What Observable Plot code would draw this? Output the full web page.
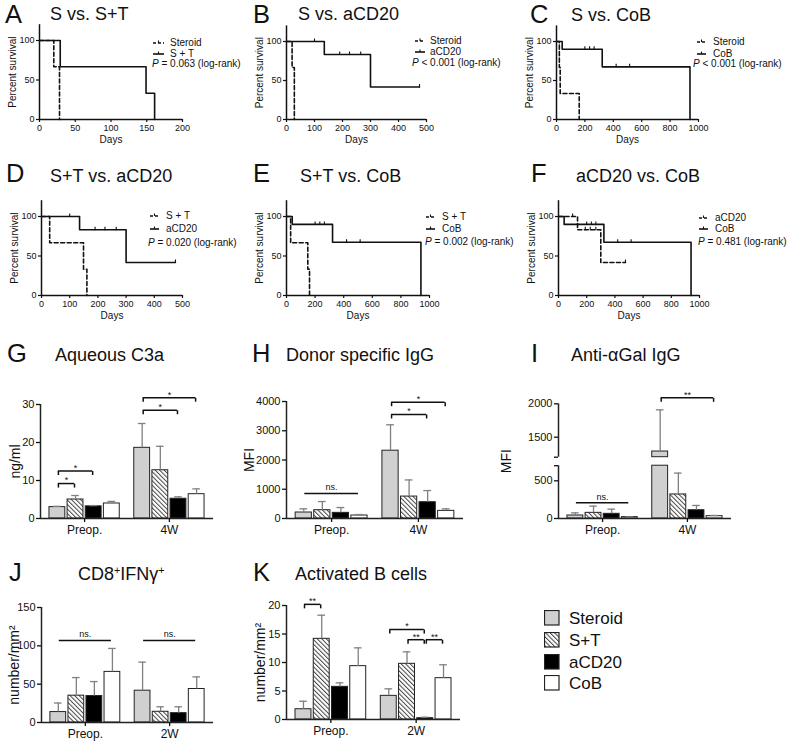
<!DOCTYPE html>
<html><head><meta charset="utf-8">
<script src="https://cdn.jsdelivr.net/npm/d3@7"></script>
<script src="https://cdn.jsdelivr.net/npm/@observablehq/plot@0.6"></script>
<style>
body{margin:0;background:#fff;}
#root{position:relative;width:789px;height:741px;overflow:hidden;font-family:Arial,"Liberation Sans",sans-serif;color:#111;background:#fff;}
.abs{position:absolute;white-space:nowrap;line-height:1;}
sup{font-size:0.6em;vertical-align:0.55em;line-height:0;}
</style></head><body>
<svg width="0" height="0" style="position:absolute"><defs>
<pattern id="hatch" patternUnits="userSpaceOnUse" width="3.2" height="3.2" patternTransform="rotate(-45)">
<rect width="3.2" height="3.2" fill="#fff"/><line x1="0.5" y1="0" x2="0.5" y2="3.2" stroke="#444" stroke-width="1"/></pattern>
</defs></svg>
<div id="root"></div>
<script>
// ---------- DATA ----------
const treatments = ["Steroid", "S+T", "aCD20", "CoB"];
const barFills = ["#d0d0d0", "url(#hatch)", "#000000", "#ffffff"];

// Kaplan-Meier steps: [day, percent survival]
const steroidKM = [[0,100],[20,66.7],[28,0]];
const steroidKM_C = [[0,100],[20,66.7],[26,33.3],[160,0]];
const stKM = [[0,100],[29,66.7],[149,33.3],[161,0]];
const acd20KM = [[0,100],[135,83.3],[300,41.7],[475,41.7]];
const acd20Censor = [[100,100],[190,83.3],[225,83.3],[265,83.3],[475,41.7]];
const cobKM = [[0,100],[40,90],[322,67.5],[940,0]];
const cobCensor = [[200,90],[233,90],[265,90],[420,67.5],[515,67.5]];

const ticks200 = [0,50,100,150,200];
const ticks500 = [0,100,200,300,400,500];
const ticks1000 = [0,200,400,600,800,1000];
const pValues = ["= 0.063","< 0.001","< 0.001","= 0.020","= 0.002","= 0.481"];

const panelLetters = ["A","B","C","D","E","F","G","H","I","J","K"];
const panelTitles = ["S vs. S+T","S vs. aCD20","S vs. CoB","S+T vs. aCD20","S+T vs. CoB","aCD20 vs. CoB",
  "Aqueous C3a","Donor specific IgG","Anti-αGal IgG","CD8<sup>+</sup>IFNγ<sup>+</sup>","Activated B cells"];

const groups4W = ["Preop.","4W"];
const groups2W = ["Preop.","2W"];
// rows: [Preop., later]; columns: Steroid, S+T, aCD20, CoB
const c3aMean = [[3.0,5.0,3.2,3.95],[18.6,12.7,5.2,6.4]];
const c3aSD   = [[0.2,1.05,0.2,0.55],[6.4,6.3,0.5,1.4]];
const dsaMean = [[205,284,193,102],[2318,750,557,261]];
const dsaSD   = [[125,296,182,34],[886,568,398,69]];
const galMean = [[40,75,62,18],[1285,319,110,31]];
const galSD   = [[35,89,62,3],[625,283,63,9]];
const cd8Mean = [[13.6,35,34.5,66],[41.5,14,12.2,43.7]];
const cd8SD   = [[11.8,23.6,18.9,30.6],[37.2,6.5,8.3,15.8]];
const bMean   = [[1.8,14.15,5.73,9.36],[4.15,9.77,0.23,7.25]];
const bSD     = [[1.4,4.15,0.7,3.21],[1.23,2.1,0.17,2.35]];

// significance: [group, barA, barB, level, label]
const c3aSig = [[0,0,1,9.2,"*"],[0,0,2,12.5,"*"],[1,0,2,28.5,"*"],[1,0,3,31.8,"*"]];
const dsaSig = [[0,0,3,852,"ns."],[1,0,2,3557,"*"],[1,0,3,3977,"*"]];
const galSig = [[0,0,3,208,"ns."],[1,0,3,2090,"**"]];
const cd8Sig = [[0,0,3,107,"ns."],[1,0,3,107,"ns."]];
const bSig   = [[0,0,1,20.2,"**"],[1,0,2,15.8,"*"],[1,1,2,14.0,"**"],[1,2,3,14.0,"**"]];

const c3aTicks = [0,10,20,30];
const dsaTicks = [0,1000,2000,3000,4000];
const galTicks = [0,500,1500,2000];
const galBreak = [700,1200];
const cd8Ticks = [0,50,100,150];
const bTicks = [0,5,10,15,20];

// ---------- RENDER ----------
const root = document.getElementById("root");
const STYLE = "background:transparent;overflow:visible;font-family:Arial,'Liberation Sans',sans-serif;font-size:9px;color:#111;";

function place(el, sx, sy, sw) {
  const d = document.createElement("div");
  d.style.cssText = `position:absolute;left:${sx}px;top:${sy}px;width:${sw}px;`;
  d.appendChild(el); root.appendChild(d);
}
function addText(html, left, baseline, fs, extra) {
  const d = document.createElement("div");
  d.className = "abs";
  d.style.left = left + "px";
  d.style.top = (baseline - 0.8465 * fs) + "px";
  d.style.fontSize = fs + "px";
  if (extra) d.style.cssText += extra;
  d.innerHTML = html;
  root.appendChild(d);
}
const censorTick = {draw(ctx, size) { const r = Math.sqrt(size / Math.PI); ctx.moveTo(0, -r); ctx.lineTo(0, 0.5); }};
const downTick = {draw(ctx, size) { const r = Math.sqrt(size / Math.PI); ctx.moveTo(0, 0); ctx.lineTo(0, r); }};
const intFmt = d3.format("d");

function survPanel(o) {
  const H = o.y0 - o.y100;
  const yTop = o.y0 - 1.2 * H;
  const marks = [
    Plot.axisX({ticks: o.xticks, tickFormat: intFmt, tickSize: 3, tickPadding: 2, fontSize: 9, strokeWidth: 1.2, label: null}),
    Plot.axisY({ticks: [0,50,100], tickFormat: intFmt, tickSize: 3, tickPadding: 2, fontSize: 9, strokeWidth: 1.2, label: null}),
    Plot.ruleY([0], {stroke: "#111", strokeWidth: 1.5}),
    Plot.ruleX([0], {stroke: "#111", strokeWidth: 1.5}),
    Plot.text(["Percent survival"], {text: d => d, frameAnchor: "left", textAnchor: "middle", dx: -27, rotate: -90, fontSize: 10}),
    Plot.text(["Days"], {text: d => d, frameAnchor: "bottom", textAnchor: "middle", dy: 23, fontSize: 10})
  ];
  o.curves.forEach(c => {
    marks.push(Plot.line(c.km, {x: d => d[0], y: d => d[1], curve: "step-after", stroke: "#111",
      strokeWidth: 1.6, strokeDasharray: c.dashed ? "4,2.5" : null}));
    if (c.censor) marks.push(Plot.dot(c.censor, {x: d => d[0], y: d => d[1], symbol: censorTick, r: 3,
      fill: "none", stroke: "#111", strokeWidth: 1.1}));
  });
  const svg = Plot.plot({
    width: o.sw, height: o.sh,
    marginLeft: o.x0 - o.sx, marginRight: o.sx + o.sw - o.x1,
    marginTop: yTop - o.sy, marginBottom: o.sy + o.sh - o.y0,
    x: {domain: [0, o.xticks[o.xticks.length - 1]]},
    y: {domain: [0, 120]},
    style: STYLE, marks
  });
  place(svg, o.sx, o.sy, o.sw);
  // legend
  const lg = o.legend;
  const names = o.curves.map(c => c.name);
  [0, 1].forEach(i => {
    const yc = lg.ys[i];
    const s = document.createElementNS("http://www.w3.org/2000/svg", "svg");
    const w = lg.s1 - lg.s0;
    s.setAttribute("width", w); s.setAttribute("height", 8);
    s.style.cssText = `position:absolute;left:${lg.s0}px;top:${yc - 4}px;overflow:visible`;
    s.innerHTML = `<line x1="0" y1="4" x2="${w}" y2="4" stroke="#111" stroke-width="1.6" ${i === 0 ? 'stroke-dasharray="3,2"' : ''}/>` +
      `<line x1="${w/2}" y1="1.5" x2="${w/2}" y2="4" stroke="#111" stroke-width="1.1"/>`;
    root.appendChild(s);
    addText(names[i], lg.tx, yc + 3.6, 10);
  });
  addText(`<i>P</i> ${o.p} (log-rank)`, lg.px, lg.ys[2] + 3.6, 10);
}

function barPanel(o) {
  const f = o.f || (v => v);
  const xd = [-0.52, 1.52];
  const STEP = 0.214, BW = 0.187, CAP = 0.045;
  const pos = (gi, ti) => gi + (ti - 1.5) * STEP;
  const rows = [];
  o.mean.forEach((row, gi) => row.forEach((v, ti) => rows.push({gi, ti, v, e: o.sd[gi][ti]})));
  const pieces = [];
  rows.forEach(d => {
    if (o.brk && d.v > o.brk[1]) { pieces.push({...d, lo: 0, hi: o.brk[0]}); pieces.push({...d, lo: o.brk[1], hi: d.v}); }
    else pieces.push({...d, lo: 0, hi: d.v});
  });
  const top = o.yTicks[o.yTicks.length - 1];
  const axisSegs = o.brk ? [[0, o.brk[0]], [o.brk[1], top]] : [[0, top]];
  const tickVals = o.brk ? [...o.yTicks, ...o.brk] : o.yTicks;
  const labelOf = new Map(tickVals.map(v => [f(v), o.yTicks.includes(v) ? String(v) : ""]));
  const sig = o.sig.map(([g, a, b, y, label]) => ({x1: pos(g, a) + 0.012, x2: pos(g, b) - 0.012, y, label}));
  const ends = sig.filter(s => s.label !== "ns.").flatMap(s => [{x: s.x1, y: s.y}, {x: s.x2, y: s.y}]);
  const marks = [];
  treatments.forEach((t, ti) => {
    marks.push(Plot.rect(pieces.filter(d => d.ti === ti), {
      x1: d => pos(d.gi, d.ti) - BW / 2, x2: d => pos(d.gi, d.ti) + BW / 2,
      y1: d => f(d.lo), y2: d => f(d.hi), fill: barFills[ti], stroke: "#222", strokeWidth: 1}));
  });
  marks.push(
    Plot.ruleX(rows, {x: d => pos(d.gi, d.ti), y1: d => f(d.v), y2: d => f(d.v + d.e), stroke: "#808080", strokeWidth: 1.3}),
    Plot.ruleY(rows, {y: d => f(d.v + d.e), x1: d => pos(d.gi, d.ti) - CAP, x2: d => pos(d.gi, d.ti) + CAP, stroke: "#808080", strokeWidth: 1.3}),
    Plot.ruleY([0], {stroke: "#222", strokeWidth: 1.5}),
    Plot.ruleX(axisSegs, {x: xd[0], y1: d => f(d[0]), y2: d => f(d[1]), stroke: "#222", strokeWidth: 1.5}),
    Plot.axisY({ticks: tickVals.map(f), tickFormat: v => labelOf.get(v), tickSize: 4, tickPadding: 2, fontSize: 11, strokeWidth: 1.3, label: null}),
    Plot.axisX({ticks: [0, 1], tickFormat: i => o.groups[i], tickSize: 4, tickPadding: 3, fontSize: 12, strokeWidth: 1.3, label: null}),
    Plot.text([o.ylabel], {text: d => d, frameAnchor: "left", textAnchor: "middle", dx: o.ldx, rotate: -90, fontSize: 14}),
    Plot.ruleY(sig, {y: d => f(d.y), x1: "x1", x2: "x2", stroke: "#111", strokeWidth: 1.5}),
    Plot.dot(ends, {x: "x", y: d => f(d.y), symbol: downTick, r: 4, fill: "none", stroke: "#111", strokeWidth: 1.5}),
    Plot.text(sig.filter(s => s.label !== "ns."), {x: d => (d.x1 + d.x2) / 2, y: d => f(d.y), text: "label", dy: -3, fontSize: 9}),
    Plot.text(sig.filter(s => s.label === "ns."), {x: d => (d.x1 + d.x2) / 2, y: d => f(d.y), text: "label", dy: -6, fontSize: 9})
  );
  const frameH = f(top);
  const svg = Plot.plot({
    width: o.sw, height: o.sh,
    marginLeft: o.x0 - o.sx, marginRight: o.sx + o.sw - o.x1,
    marginTop: o.sh - o.mB - frameH * o.k, marginBottom: o.mB,
    x: {domain: xd}, y: {domain: [0, frameH]},
    style: STYLE, marks
  });
  place(svg, o.sx, o.sy, o.sw);
}

// survival panels
survPanel({sx: 0, sy: 10, sw: 250, sh: 145, x0: 39, x1: 182, y0: 119, y100: 40, xticks: ticks200, p: pValues[0],
  curves: [{name: "Steroid", km: steroidKM, dashed: true}, {name: "S + T", km: stKM}],
  legend: {s0: 153, s1: 164, tx: 170, px: 152, ys: [43, 54, 64]}});
survPanel({sx: 250, sy: 10, sw: 260, sh: 145, x0: 286, x1: 426, y0: 119, y100: 41, xticks: ticks500, p: pValues[1],
  curves: [{name: "Steroid", km: steroidKM, dashed: true}, {name: "aCD20", km: acd20KM, censor: acd20Censor}],
  legend: {s0: 415, s1: 425, tx: 430, px: 412, ys: [41, 52, 63]}});
survPanel({sx: 515, sy: 10, sw: 274, sh: 145, x0: 556, x1: 698, y0: 119, y100: 41, xticks: ticks1000, p: pValues[2],
  curves: [{name: "Steroid", km: steroidKM_C, dashed: true}, {name: "CoB", km: cobKM, censor: cobCensor}],
  legend: {s0: 697, s1: 706, tx: 713, px: 693, ys: [42, 54, 64]}});
survPanel({sx: 0, sy: 185, sw: 250, sh: 145, x0: 41, x1: 182, y0: 295, y100: 216, xticks: ticks500, p: pValues[3],
  curves: [{name: "S + T", km: stKM, dashed: true}, {name: "aCD20", km: acd20KM, censor: acd20Censor}],
  legend: {s0: 150, s1: 159, tx: 166, px: 148, ys: [216, 229, 243]}});
survPanel({sx: 250, sy: 185, sw: 260, sh: 145, x0: 286, x1: 429, y0: 295, y100: 216, xticks: ticks1000, p: pValues[4],
  curves: [{name: "S + T", km: stKM, dashed: true}, {name: "CoB", km: cobKM, censor: cobCensor}],
  legend: {s0: 426, s1: 435, tx: 442, px: 425, ys: [217, 229, 242]}});
survPanel({sx: 515, sy: 185, sw: 274, sh: 145, x0: 558, x1: 699, y0: 295, y100: 216, xticks: ticks1000, p: pValues[5],
  curves: [{name: "aCD20", km: acd20KM, censor: acd20Censor, dashed: true}, {name: "CoB", km: cobKM, censor: cobCensor}],
  legend: {s0: 699, s1: 708, tx: 715, px: 698, ys: [218, 229, 242]}});

// bar panels
const galScale = v => v <= 700 ? v * 0.0754 : 61.3 + (v - 1200) * 0.0667;
barPanel({sx: 0, sy: 370, sw: 263, sh: 175, x0: 40, x1: 213, mB: 27, k: 114 / 30,
  mean: c3aMean, sd: c3aSD, groups: groups4W, yTicks: c3aTicks, sig: c3aSig, ylabel: "ng/ml", ldx: -25});
barPanel({sx: 236, sy: 370, sw: 290, sh: 175, x0: 286, x1: 463, mB: 27, k: 117 / 4000,
  mean: dsaMean, sd: dsaSD, groups: groups4W, yTicks: dsaTicks, sig: dsaSig, ylabel: "MFI", ldx: -37});
barPanel({sx: 495, sy: 370, sw: 294, sh: 175, x0: 558, x1: 731, mB: 27, k: 1, f: galScale, brk: galBreak,
  mean: galMean, sd: galSD, groups: groups4W, yTicks: galTicks, sig: galSig, ylabel: "MFI", ldx: -52});
barPanel({sx: 0, sy: 590, sw: 263, sh: 151, x0: 41, x1: 213, mB: 19, k: 115 / 150,
  mean: cd8Mean, sd: cd8SD, groups: groups2W, yTicks: cd8Ticks, sig: cd8Sig, ylabel: "number/mm²", ldx: -27});
barPanel({sx: 236, sy: 590, sw: 264, sh: 151, x0: 286, x1: 460, mB: 22, k: 114 / 20,
  mean: bMean, sd: bSD, groups: groups2W, yTicks: bTicks, sig: bSig, ylabel: "number/mm²", ldx: -26});

// panel letters & titles
const letterPos = [[5,23.1,50,20],[253,23.1,298,20.5],[530,23.1,571,21],[6,183,50,182],[253,183,300,182],[531,183,576,182],
  [7,363,55,361],[252,363,286,361],[531,363,571,361],[9,582,78,580],[253,582,295,580]];
panelLetters.forEach((L, i) => {
  const [lx, lb, tx, tb] = letterPos[i];
  addText(L, lx, lb, 25.5);
  addText(panelTitles[i], tx, tb, 18);
});

// bar legend
const legendY = [618, 640, 662, 683];
treatments.forEach((t, i) => {
  const s = document.createElementNS("http://www.w3.org/2000/svg", "svg");
  s.setAttribute("width", 16); s.setAttribute("height", 16);
  s.style.cssText = `position:absolute;left:544px;top:${legendY[i] - 8}px;`;
  s.innerHTML = `<rect x="0.5" y="0.5" width="14.5" height="14.5" fill="${barFills[i]}" stroke="#222" stroke-width="1.2"/>`;
  root.appendChild(s);
  addText(t, 569, legendY[i] + 6.2, 17);
});
</script>
</body></html>
